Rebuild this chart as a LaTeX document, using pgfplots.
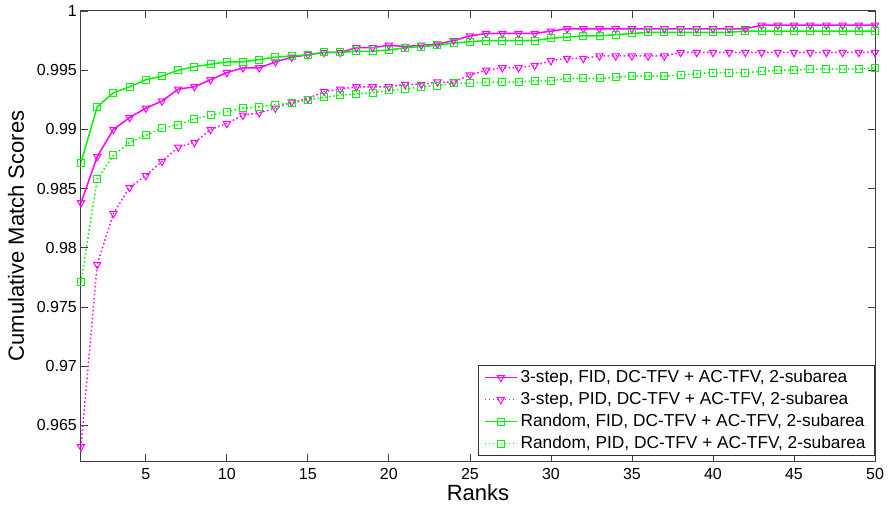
\documentclass[border=0pt]{standalone}
\usepackage{fontspec}
\setmainfont{Liberation Sans}
\usepackage{pgfplots}
\usepackage{pgfplotstable}
\pgfplotsset{compat=1.18}
\usetikzlibrary{calc}
\definecolor{mag}{RGB}{255,0,255}
\definecolor{grn}{RGB}{0,245,0}
\pgfplotstableread{
x A B C D
1 0.9838 0.9632 0.9872 0.9771
2 0.9877 0.9786 0.9919 0.9858
3 0.9900 0.9829 0.9931 0.9878
4 0.9910 0.9851 0.9936 0.9889
5 0.9918 0.9861 0.9942 0.9895
6 0.9924 0.9873 0.9945 0.9901
7 0.9934 0.9885 0.9950 0.9904
8 0.9936 0.9889 0.9953 0.9909
9 0.9942 0.9900 0.9955 0.9912
10 0.9948 0.9905 0.9957 0.9915
11 0.9952 0.9912 0.9957 0.9918
12 0.9952 0.9914 0.9959 0.9919
13 0.9957 0.9918 0.9961 0.9921
14 0.9961 0.9923 0.9962 0.9922
15 0.9963 0.9926 0.9963 0.9925
16 0.9965 0.9932 0.9965 0.9927
17 0.9965 0.9934 0.9965 0.9929
18 0.9969 0.9936 0.9966 0.9930
19 0.9969 0.9936 0.9966 0.9931
20 0.9971 0.9936 0.9967 0.9933
21 0.9970 0.9938 0.9969 0.9934
22 0.9971 0.9938 0.9970 0.9936
23 0.9972 0.9940 0.9971 0.9937
24 0.9975 0.9940 0.9973 0.9939
25 0.9979 0.9946 0.9974 0.9939
26 0.9981 0.9950 0.9975 0.9940
27 0.9981 0.9952 0.9975 0.9940
28 0.9981 0.9952 0.9975 0.9940
29 0.9981 0.9954 0.9975 0.9941
30 0.9983 0.9958 0.9977 0.9941
31 0.9985 0.9960 0.9978 0.9943
32 0.9985 0.9960 0.9979 0.9943
33 0.9985 0.9962 0.9979 0.9943
34 0.9985 0.9962 0.9980 0.9944
35 0.9985 0.9962 0.9981 0.9945
36 0.9985 0.9962 0.9982 0.9945
37 0.9985 0.9962 0.9982 0.9945
38 0.9985 0.9965 0.9982 0.9946
39 0.9985 0.9965 0.9982 0.9947
40 0.9985 0.9965 0.9982 0.9948
41 0.9985 0.9965 0.9982 0.9948
42 0.9985 0.9965 0.9983 0.9948
43 0.9988 0.9965 0.9983 0.9949
44 0.9988 0.9965 0.9983 0.9950
45 0.9988 0.9965 0.9983 0.9950
46 0.9988 0.9965 0.9983 0.9951
47 0.9988 0.9965 0.9983 0.9951
48 0.9988 0.9965 0.9983 0.9951
49 0.9988 0.9965 0.9983 0.9951
50 0.9988 0.9965 0.9983 0.9952
}\data
\begin{document}
\begin{tikzpicture}
\begin{axis}[
  name=ax,
  width=794pt, height=450pt, scale only axis,
  xmin=1, xmax=50, ymin=0.962, ymax=1,
  xtick={5,10,...,50},
  ytick={0.965,0.97,0.975,0.98,0.985,0.99,0.995,1},
  tick align=inside, major tick length=7pt,
  axis line style={black!75, line width=1pt},
  tick style={black!75, line width=0.8pt},
  /pgf/number format/assume math mode=true,
  yticklabel style={/pgf/number format/fixed, /pgf/number format/precision=3},
  tick label style={font=\fontsize{16}{19}\selectfont, inner sep=0pt},
  xticklabel style={anchor=base, yshift=-18pt},
  yticklabel style={anchor=east, xshift=-4pt},
  xlabel={Ranks}, ylabel={Cumulative Match Scores},
  label style={font=\fontsize{22}{26}\selectfont, inner sep=0pt},
  xlabel style={at={(axis description cs:0.5,-0.0867)}, anchor=base},
  ylabel style={at={(axis description cs:-0.0718,0.5)}, anchor=base},
  clip=false,
  legend style={at={(axis description cs:1,0)}, anchor=south east, yshift=5pt,
    draw=black!80, line width=0.8pt, inner xsep=6pt, inner ysep=1pt,
    font=\fontsize{17.3}{20}\selectfont,
    nodes={inner sep=3pt, text height=12.5pt, text depth=3.5pt}},
  legend cell align=left,
  legend image code/.code={\draw[mark repeat=2,mark phase=2,#1] plot coordinates {(0pt,0pt) (16pt,0pt) (32pt,0pt)};},
]
\addplot[mag, line width=1.5pt, mark=triangle, mark size=4.2pt, mark options={solid, rotate=180, line width=1pt}] table[x=x,y=A] {\data};
\addlegendentry{3-step, FID, DC-TFV + AC-TFV, 2-subarea}
\addplot[mag, line width=1.5pt, dash pattern=on 1.5pt off 2.5pt, mark=triangle, mark size=4.2pt, mark options={solid, rotate=180, line width=1pt}] table[x=x,y=B] {\data};
\addlegendentry{3-step, PID, DC-TFV + AC-TFV, 2-subarea}
\addplot[grn, line width=1.5pt, mark=square, mark size=3.5pt, mark options={solid, line width=1pt}] table[x=x,y=C] {\data};
\addlegendentry{Random, FID, DC-TFV + AC-TFV, 2-subarea}
\addplot[grn, line width=1.5pt, dash pattern=on 1.5pt off 2.5pt, mark=square, mark size=3.5pt, mark options={solid, line width=1pt}] table[x=x,y=D] {\data};
\addlegendentry{Random, PID, DC-TFV + AC-TFV, 2-subarea}
\end{axis}
\pgfresetboundingbox
\path ($(ax.south west)+(-81pt,-45pt)$) rectangle ($(ax.north east)+(14pt,11pt)$);
\end{tikzpicture}
\end{document}
